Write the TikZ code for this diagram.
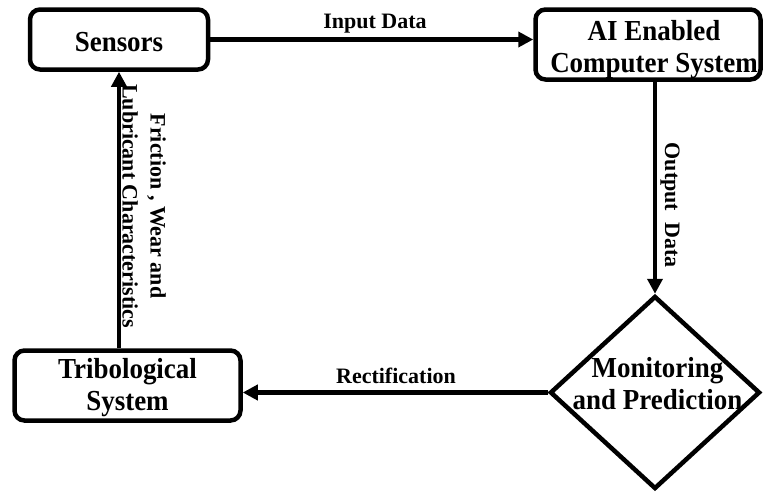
\documentclass[tikz,border=0pt]{standalone}
\usepackage{fontspec}
\setmainfont{Liberation Serif}
\newfontfamily\boxfont[FakeStretch=0.93]{Liberation Serif}
\usetikzlibrary{arrows.meta,shapes.geometric}
\tikzset{
  box/.style={draw, line width=4.5pt, rounded corners=10pt, inner sep=0pt},
  dmd/.style={draw, diamond, line width=4.5pt, inner sep=0pt},
  big/.style={align=center, inner sep=0pt, font=\boxfont\fontsize{29}{32}\selectfont\bfseries},
  lab/.style={font=\fontsize{22}{28}\selectfont\bfseries, align=center, inner sep=0pt},
  conn/.style={line width=4.5pt, -{Triangle[length=15pt,width=15pt]}}
}
\begin{document}
\begin{tikzpicture}[x=1pt,y=-1pt]
\useasboundingbox (0,0) rectangle (764,496);
\node[box, minimum width=178pt, minimum height=60pt] (sen) at (119,39.5) {};
\node[box, minimum width=225pt, minimum height=70pt] (ai) at (648,44.5) {};
\node[box, minimum width=226pt, minimum height=70pt] (tri) at (127.5,385.5) {};
\node[dmd, minimum width=210pt, minimum height=193pt] (dia) at (655,392.5) {};

\node[big, anchor=base] (sent) at (119,51) {Sensors};
\node[big, anchor=base] (ait) at (654,72) {AI Enabled\\Computer System};
\node[big, anchor=base] (trit) at (127.5,410) {Tribological\\System};
\node[big, anchor=base] (diat) at (657.5,409) {Monitoring\\and Prediction};

\draw[conn] (sen.east) -- (sen.east -| ai.west);
\draw[conn] (dia.north |- ai.south) -- (dia.north);
\draw[conn] (dia.west) -- (dia.west -| tri.east);
\draw[conn] (sen.south |- tri.north) -- (sen.south);

\node[lab, anchor=base] (l1) at (375,28) {Input Data};
\node[lab, anchor=base] (l2) at (396,383) {Rectification};
\node[lab, rotate=-90] (l3) at (670,205) {Output\ \ Data};
\node[lab, rotate=-90] (l4) at (144,206) {Friction , Wear and\\Lubricant Characteristics};
\end{tikzpicture}
\end{document}
